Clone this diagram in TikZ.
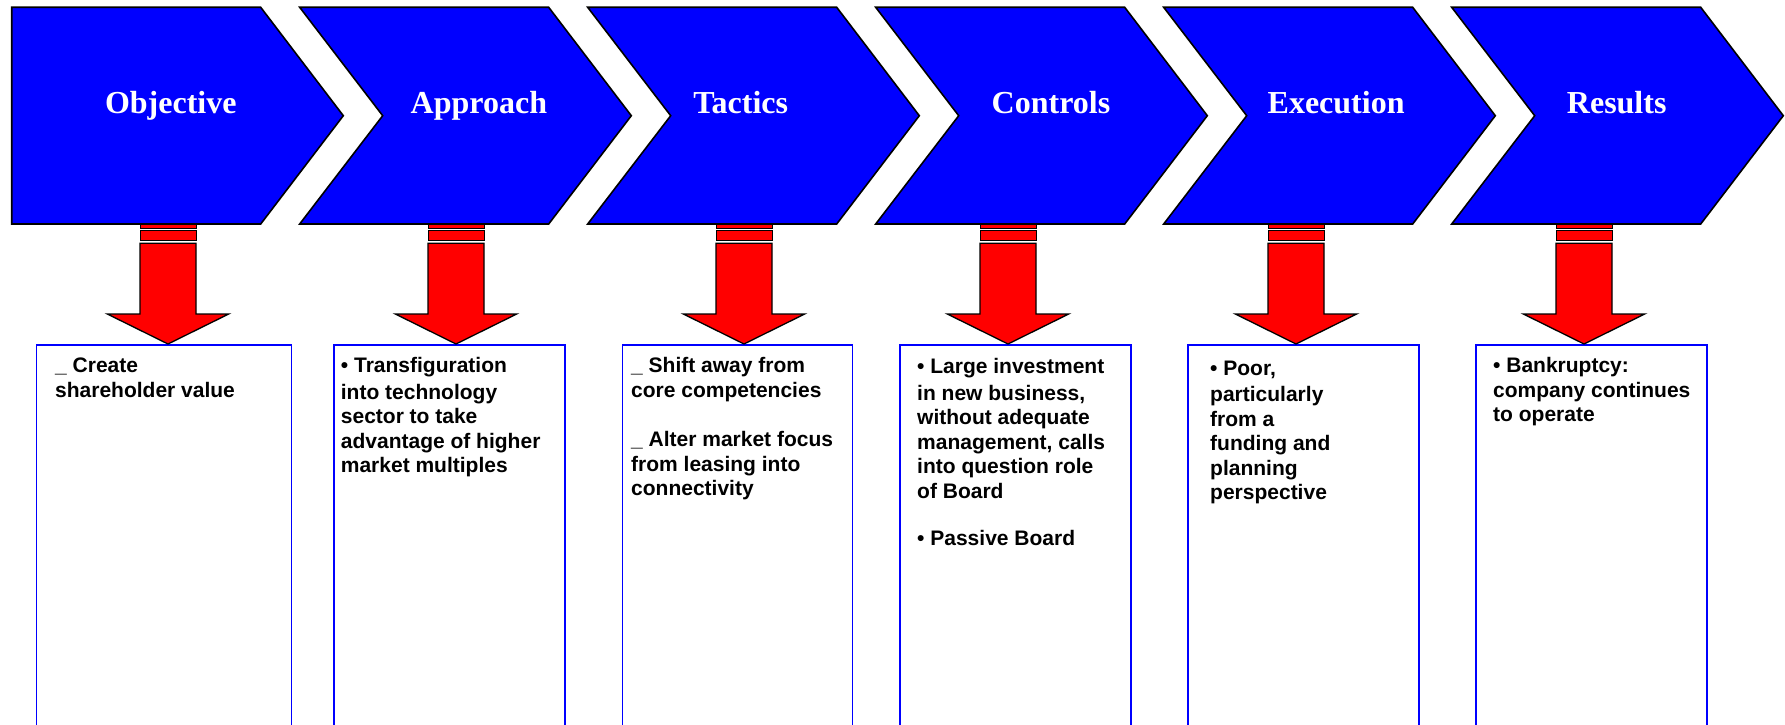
\documentclass[tikz,border=0pt]{standalone}
\usepackage{fontspec}
\setmainfont{Liberation Sans}
\newfontfamily\headfont{Liberation Serif}
\definecolor{chevblue}{HTML}{0000FF}
\definecolor{arrred}{HTML}{FF0000}
\definecolor{boxblue}{HTML}{0000FF}
\tikzset{
  chev/.style={fill=chevblue, draw=black, line width=1.6pt, line join=miter},
  heading/.style={text=white, font=\headfont\bfseries\fontsize{32}{36}\selectfont, anchor=base, inner sep=0pt},
  redpart/.style={fill=arrred, draw=black, line width=1.3pt, line join=miter},
  redband/.style={fill=arrred, draw=black, line width=0.9pt},
  infobox/.style={draw=boxblue, line width=1.5pt, anchor=north west, inner sep=0pt, minimum height=420pt},
  bodytext/.style={anchor=base west, inner sep=0pt, font=\bfseries\fontsize{21}{24.5}\selectfont},
}
\newcommand{\boxlines}[1]{\parbox[t]{260pt}{\raggedright #1}}
\begin{document}
\begin{tikzpicture}[x=1pt, y=-1pt]
\useasboundingbox (0,0) rectangle (1785,725);
\clip (0,0) rectangle (1785,725);

% information boxes
\node[infobox, minimum width=255pt]   (box1) at (35.7,344)   {};
\node[infobox, minimum width=231pt]   (box2) at (333,344)    {};
\node[infobox, minimum width=230.3pt] (box3) at (621.5,344)  {};
\node[infobox, minimum width=231pt]   (box4) at (899,344)    {};
\node[infobox, minimum width=230.6pt] (box5) at (1187.4,344) {};
\node[infobox, minimum width=231pt]   (box6) at (1475.3,344) {};

% red striped block arrows
\foreach \c/\n in {168/1,456/2,744/3,1008/4,1296/5,1584/6}{
  \coordinate (top\n) at (\c,224);
  \coordinate (tip\n) at (\c,344);
  \draw[redband] ({\c-28},224) rectangle ({\c+28},228.3);
  \draw[redband] ({\c-28},230.8) rectangle ({\c+28},240.5);
  \draw[redpart] ({\c-28},243.2) -- ({\c+28},243.2) -- ({\c+28},314) -- ({\c+60.7},314)
     -- (tip\n) -- ({\c-60.7},314) -- ({\c-28},314) -- cycle;
}

% chevrons
\draw[chev] (11.7,7.3) -- (260.7,7.3) -- (343.3,115.7) -- (260.7,224) -- (11.7,224) -- cycle;
\foreach \i in {1,...,5}{
  \pgfmathsetmacro{\L}{11.7+288*\i}
  \draw[chev] (\L,7.3) -- ({\L+249},7.3) -- ({\L+331.6},115.7) -- ({\L+249},224)
     -- (\L,224) -- ({\L+83},115.7) -- cycle;
}

% headings
\node[heading] (h1) at (170.8,113.3)  {Objective};
\node[heading] (h2) at (478.9,113.3)  {Approach};
\node[heading] (h3) at (740.7,113.3)  {Tactics};
\node[heading] (h4) at (1051,113.3)   {Controls};
\node[heading] (h5) at (1336.1,113.3) {Execution};
\node[heading] (h6) at (1616.7,113.3) {Results};

% texts
\node[bodytext] (t1) at (55,372.7) {\boxlines{\_ Create\\ shareholder value}};
\node[bodytext] (t2) at (340.7,372.7) {\boxlines{\textbullet{} Transfiguration\\[2pt] into technology\\ sector to take\\ advantage of higher\\ market multiples}};
\node[bodytext] (t3) at (631,372.7) {\boxlines{\_ Shift away from\\ core competencies\\[25pt] \_ Alter market focus\\ from leasing into\\ connectivity}};
\node[bodytext] (t4) at (917,373) {\boxlines{\textbullet{} Large investment\\[2.5pt] in new business,\\ without adequate\\ management, calls\\ into question role\\ of Board\\[23pt] \textbullet{} Passive Board}};
\node[bodytext] (t5) at (1210,375.7) {\boxlines{\textbullet{} Poor,\\[1.5pt] particularly\\ from a\\ funding and\\ planning\\ perspective}};
\node[bodytext] (t6) at (1493,372.5) {\boxlines{\textbullet{} Bankruptcy:\\ company continues\\ to operate}};
\end{tikzpicture}
\end{document}
